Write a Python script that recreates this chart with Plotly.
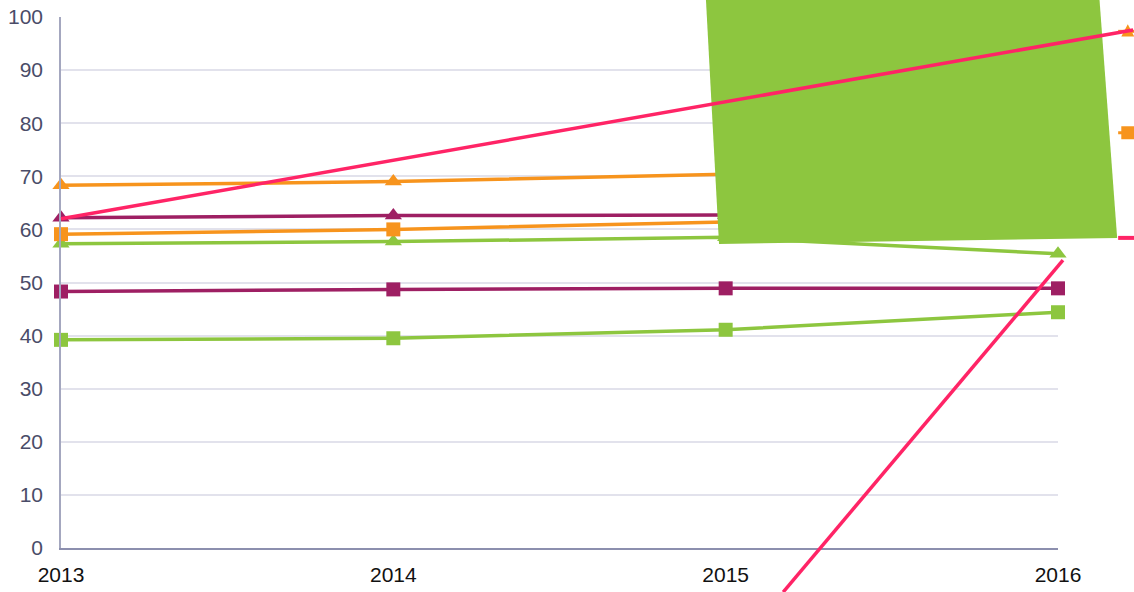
import plotly.graph_objects as go

years = [2013, 2014, 2015, 2016]
orange_tri = [68.3, 69.0, 70.4, 71.2]
purple_tri = [62.2, 62.6, 62.7, 62.9]
orange_sq = [59.1, 60.0, 61.4, 62.4]
green_tri = [57.3, 57.7, 58.5, 55.4]
purple_sq = [48.3, 48.7, 48.9, 48.9]
green_sq = [39.2, 39.5, 41.1, 44.4]

y_ticks = [0, 10, 20, 30, 40, 50, 60, 70, 80, 90, 100]
x_ticks = years

ORANGE = "#f7941d"
PURPLE = "#9e1f63"
GREEN = "#8dc63f"
PINK = "#ff2466"

# overlay elements (data units)
pink1_x = [2013.0, 2016.226]
pink1_y = [62.0, 97.55]
pink2_x = [2016.015, 2015.173]
pink2_y = [54.2, -8.3]
poly_x = [2014.940, 2016.124, 2016.178, 2014.980]
poly_y = [104.0, 104.0, 58.4, 57.25]
leg_x = [2016.181, 2016.26]
leg_tri_y = 97.3
leg_sq_y = 78.2
leg_pink_y = 58.4
leg_mark_x = 2016.21

XR = [2013, 2016]
YR = [0, 100]


def px(v):
    return (v - XR[0]) / (XR[1] - XR[0])


def py(v):
    return (v - YR[0]) / (YR[1] - YR[0])


series = [
    (green_sq, GREEN, "square"),
    (purple_sq, PURPLE, "square"),
    (green_tri, GREEN, "triangle-up"),
    (orange_sq, ORANGE, "square"),
    (purple_tri, PURPLE, "triangle-up"),
    (orange_tri, ORANGE, "triangle-up"),
]

fig = go.Figure()
for vals, col, sym in series:
    fig.add_trace(go.Scatter(
        x=years, y=vals, mode="lines+markers",
        line=dict(color=col, width=3.5),
        marker=dict(symbol=sym, size=14 if sym == "square" else 15, color=col),
        cliponaxis=False, showlegend=False, hoverinfo="skip"))

shapes = []
# green polygon
path = "M " + " L ".join(f"{px(a)},{py(b)}" for a, b in zip(poly_x, poly_y)) + " Z"
shapes.append(dict(type="path", xref="paper", yref="paper", path=path,
                   fillcolor=GREEN, line=dict(width=0), layer="above"))
# legend-like fragments
shapes.append(dict(type="line", xref="paper", yref="paper", x0=px(leg_x[0]), x1=px(leg_x[1]),
                   y0=py(leg_tri_y), y1=py(leg_tri_y), line=dict(color=ORANGE, width=3), layer="above"))
shapes.append(dict(type="line", xref="paper", yref="paper", x0=px(leg_x[0]), x1=px(leg_x[1]),
                   y0=py(leg_sq_y), y1=py(leg_sq_y), line=dict(color=ORANGE, width=3), layer="above"))
shapes.append(dict(type="line", xref="paper", yref="paper", x0=px(leg_x[0]), x1=px(leg_x[1]),
                   y0=py(leg_pink_y), y1=py(leg_pink_y), line=dict(color=PINK, width=4), layer="above"))
# legend markers
dx = 6.5 / 997
dy = 6.5 / 531
cx, cy = px(leg_mark_x), py(leg_tri_y)
shapes.append(dict(type="path", xref="paper", yref="paper",
                   path=f"M {cx-dx},{cy-dy*0.8} L {cx+dx},{cy-dy*0.8} L {cx},{cy+dy*1.1} Z",
                   fillcolor=ORANGE, line=dict(width=0), layer="above"))
cy2 = py(leg_sq_y)
shapes.append(dict(type="rect", xref="paper", yref="paper", x0=cx - dx, x1=cx + dx,
                   y0=cy2 - dy, y1=cy2 + dy, fillcolor=ORANGE, line=dict(width=0), layer="above"))
# pink lines
shapes.append(dict(type="line", xref="paper", yref="paper", x0=px(pink1_x[0]), x1=px(pink1_x[1]),
                   y0=py(pink1_y[0]), y1=py(pink1_y[1]), line=dict(color=PINK, width=3.5), layer="above"))
shapes.append(dict(type="line", xref="paper", yref="paper", x0=px(pink2_x[0]), x1=px(pink2_x[1]),
                   y0=py(pink2_y[0]), y1=py(pink2_y[1]), line=dict(color=PINK, width=3.5), layer="above"))

fig.update_layout(
    width=1134, height=592,
    margin=dict(l=61, r=76, t=17, b=44, autoexpand=False),
    paper_bgcolor="white", plot_bgcolor="white",
    shapes=shapes,
    showlegend=False,
    xaxis=dict(range=XR, tickvals=x_ticks, ticktext=[str(v) for v in x_ticks],
               showgrid=False, zeroline=False, showline=True, linecolor="#8c8fae", linewidth=1.5,
               ticks="", ticklabelstandoff=7, automargin=False, ticklabeloverflow="allow",
               tickfont=dict(family="Liberation Sans, Arial", size=21, color="#111111")),
    yaxis=dict(range=YR, tickvals=y_ticks, showgrid=True, gridcolor="#e2e2ec", gridwidth=1.5,
               zeroline=False, showline=True, linecolor="#a4a7bf", linewidth=1.5,
               ticks="", ticklabelstandoff=12, automargin=False, ticklabeloverflow="allow",
               tickfont=dict(family="Liberation Sans, Arial", size=21, color="#4a4c68")),
)

fig.write_html("out.html", config={"displayModeBar": False},
               post_script="document.body.style.margin='0';document.body.style.overflow='hidden';")
